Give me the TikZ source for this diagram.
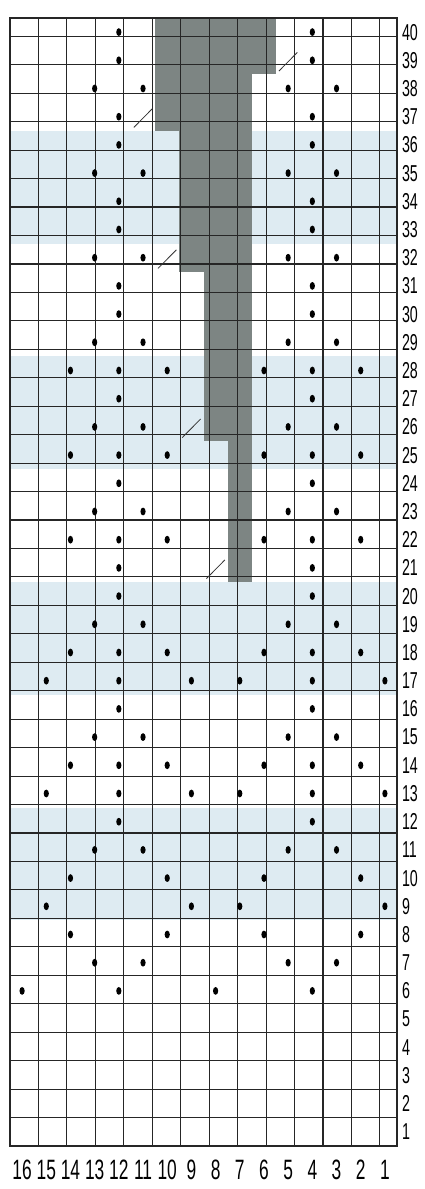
\documentclass[tikz,border=0pt]{standalone}
\usepackage{fontspec}
\newfontfamily\narrowfont[FakeStretch=0.62]{Liberation Sans}
\definecolor{chartblue}{RGB}{222,235,242}
\definecolor{chartgrey}{RGB}{125,133,131}
\begin{document}
\begin{tikzpicture}[x=24.1875pt,y=28.2pt,
  gridline/.style={draw=black!85,line width=1.1pt},
  stdot/.style={fill=black},
  slashline/.style={draw=black!80,line width=0.8pt},
  rowlabel/.style={anchor=west,inner sep=0pt,font=\narrowfont\fontsize{23}{23}\selectfont},
  collabel/.style={anchor=center,inner sep=0pt,font=\narrowfont\fontsize{28}{28}\selectfont}]
\useasboundingbox (-10pt,-43pt) rectangle (414pt,1146pt);
\fill[white] (-10pt,-43pt) rectangle (414pt,1146pt);
% light blue bands
\foreach \a in {33,25,17,9} \fill[chartblue] (0,\a-1) rectangle (16,\a+3);
% dark grey cable area
\fill[chartgrey] (6,38) rectangle (11,40);
\fill[chartgrey] (6,36) rectangle (10,38);
\fill[chartgrey] (7,31) rectangle (10,36);
\fill[chartgrey] (8,25) rectangle (10,31);
\fill[chartgrey] (9,20) rectangle (10,25);
% grid
\draw[gridline] (0,0) grid (16,40);
\draw[gridline] (0,0) rectangle (16,40);
% dots
\foreach \r/\cs in {40/{5,13},39/{5,13},38/{4,6,12,14},37/{5,13},36/{5,13},
  35/{4,6,12,14},34/{5,13},33/{5,13},32/{4,6,12,14},31/{5,13},30/{5,13},
  29/{4,6,12,14},28/{3,5,7,11,13,15},27/{5,13},26/{4,6,12,14},
  25/{3,5,7,11,13,15},24/{5,13},23/{4,6,12,14},22/{3,5,7,11,13,15},
  21/{5,13},20/{5,13},19/{4,6,12,14},18/{3,5,7,11,13,15},
  17/{2,5,8,10,13,16},16/{5,13},15/{4,6,12,14},14/{3,5,7,11,13,15},
  13/{2,5,8,10,13,16},12/{5,13},11/{4,6,12,14},10/{3,7,11,15},
  9/{2,8,10,16},8/{3,7,11,15},7/{4,6,12,14},6/{1,5,9,13}}
  {\foreach \c in \cs {\fill[stdot] (\c-0.5,\r-0.5) ellipse [x radius=2.6pt, y radius=3.9pt];}}
% slashes
\foreach \r/\c in {39/12,37/6,32/7,26/8,21/9}
  \draw[slashline] (\c-0.88,\r-0.88) -- (\c-0.12,\r-0.22);
% row labels
\foreach \r in {1,...,40} \node[rowlabel] (r\r) at (16.2,\r-0.5) {\r};
% column labels
\foreach \i in {1,...,16} {
  \pgfmathtruncatemacro\s{17-\i}
  \node[collabel] (c\s) at (\i-0.5,-0.85) {\s};
}
\end{tikzpicture}
\end{document}
